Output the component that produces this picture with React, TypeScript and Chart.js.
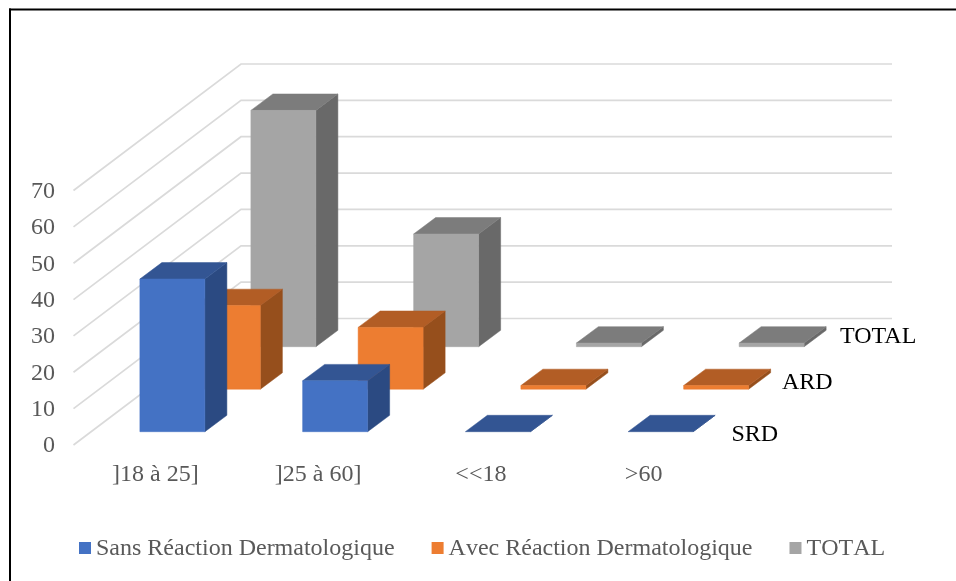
import React, { useEffect, useRef } from "react";
import { Chart, BarController, registerables } from "chart.js";

Chart.register(...registerables);

const categories = ["]18 à 25]", "]25 à 60]", "<<18", ">60"];
const sansReaction = [42, 14, 0, 0];
const avecReaction = [23, 17, 1, 1];
const total = [65, 31, 1, 1];

const seriesNames = ["Sans Réaction Dermatologique", "Avec Réaction Dermatologique", "TOTAL"];
const depthNames = ["SRD", "ARD", "TOTAL"];
const depthNameX = [731.5, 782, 840];
const depthNameY = [441, 389, 343];

const frontColors = ["#4472C4", "#ED7D31", "#A5A5A5"];
const topColors = ["#335593", "#B25D25", "#7C7C7C"];
const sideColors = ["#2B4A82", "#964F1C", "#696969"];

const SERIF = '"Liberation Serif", "Times New Roman", serif';
const GREY_TEXT = "#595959";
const TEXT_SIZE = 24;

// Oblique projection of the depth axis: each series sits one slot further back.
const SLOT_DX = 55.5;
const SLOT_DY = 42.5;
const FIRST_DX = 17;
const FIRST_DY = 13.3;
const BAR_DEPTH_DX = 22;
const BAR_DEPTH_DY = 16.4;
const WALL_DX = 167;
const WALL_DY = 126.5;

function polygon(ctx: CanvasRenderingContext2D, pts: number[][], fill: string) {
  ctx.beginPath();
  pts.forEach(([x, y], i) => (i ? ctx.lineTo(x, y) : ctx.moveTo(x, y)));
  ctx.closePath();
  ctx.fillStyle = fill;
  ctx.fill();
  ctx.strokeStyle = fill;
  ctx.lineWidth = 0.5;
  ctx.stroke();
}

// Bar controller whose elements are painted as boxes receding along the depth axis.
class Bar3DController extends BarController {
  static id = "bar3d";
  static defaults = BarController.defaults;
  static overrides = BarController.overrides;

  draw() {
    const ctx: CanvasRenderingContext2D = this.chart.ctx;
    const slot = this.index;
    const ox = FIRST_DX + SLOT_DX * slot;
    const oy = FIRST_DY + SLOT_DY * slot;
    ctx.save();
    this._cachedMeta.data.forEach((el: any) => {
      const { x, y, base, width } = el.getProps(["x", "y", "base", "width"], true);
      const l = x - width / 2 + ox;
      const r = x + width / 2 + ox;
      const t = y - oy;
      const b = base - oy;
      polygon(ctx, [[r, t], [r + BAR_DEPTH_DX, t - BAR_DEPTH_DY], [r + BAR_DEPTH_DX, b - BAR_DEPTH_DY], [r, b]], sideColors[slot]);
      polygon(ctx, [[l, t], [r, t], [r + BAR_DEPTH_DX, t - BAR_DEPTH_DY], [l + BAR_DEPTH_DX, t - BAR_DEPTH_DY]], topColors[slot]);
      if (b - t > 0) polygon(ctx, [[l, t], [r, t], [r, b], [l, b]], frontColors[slot]);
    });
    ctx.restore();
  }
}
Chart.register(Bar3DController);

const framePlugin = {
  id: "frame",
  beforeDraw(chart: any) {
    const { ctx, width, height } = chart;
    ctx.save();
    ctx.fillStyle = "#000000";
    ctx.fillRect(9, 8.5, width - 9, 2);
    ctx.fillRect(9, 8.5, 2, height - 8.5);
    ctx.restore();
  },
};

// Floor-to-back-wall grid: one bent line per value tick.
const wallGridPlugin = {
  id: "wallGrid",
  beforeDatasetsDraw(chart: any) {
    const { ctx, chartArea, scales } = chart;
    ctx.save();
    ctx.strokeStyle = "#DADADA";
    ctx.lineWidth = 1.7;
    scales.y.ticks.forEach((_: any, i: number) => {
      const y = scales.y.getPixelForTick(i);
      ctx.beginPath();
      ctx.moveTo(chartArea.left - 0.5, y);
      ctx.lineTo(chartArea.left + WALL_DX, y - WALL_DY);
      ctx.lineTo(chartArea.right + WALL_DX, y - WALL_DY);
      ctx.stroke();
    });
    ctx.restore();
  },
};

const annotationsPlugin = {
  id: "annotations",
  afterDraw(chart: any) {
    const { ctx } = chart;
    ctx.save();
    ctx.textBaseline = "alphabetic";
    ctx.textAlign = "left";
    ctx.font = `${TEXT_SIZE}px ${SERIF}`;

    // Series names along the depth axis
    ctx.fillStyle = "#000000";
    depthNames.forEach((name, i) => ctx.fillText(name, depthNameX[i], depthNameY[i]));

    // Legend row
    ctx.fontKerning = "none";
    let x = 79;
    chart.data.datasets.forEach((ds: any) => {
      ctx.fillStyle = ds.backgroundColor;
      ctx.fillRect(x, 542, 12, 12);
      ctx.fillStyle = GREY_TEXT;
      ctx.fillText(ds.label, x + 17, 555);
      x += 12 + 5 + ctx.measureText(ds.label).width + 37;
    });
    ctx.restore();
  },
};

export default function App() {
  const ref = useRef<HTMLCanvasElement>(null);

  useEffect(() => {
    const chart = new Chart(ref.current!, {
      type: "bar3d" as any,
      data: {
        labels: categories,
        datasets: [sansReaction, avecReaction, total].map((data, i) => ({
          label: seriesNames[i],
          data,
          backgroundColor: frontColors[i],
          grouped: false,
          barThickness: 65,
          clip: false as any,
        })),
      },
      options: {
        responsive: false,
        animation: false,
        layout: { padding: { left: 0, top: 190.5, right: 231, bottom: 0 } },
        plugins: { legend: { display: false }, tooltip: { enabled: false } },
        scales: {
          x: {
            type: "category",
            offset: true,
            grid: { display: false },
            border: { display: false },
            ticks: {
              color: GREY_TEXT,
              font: { family: SERIF, size: TEXT_SIZE },
              padding: 7,
              maxRotation: 0,
              autoSkip: false,
            },
            afterFit: (s: any) => {
              s.height = 136;
            },
          },
          y: {
            type: "linear",
            min: 0,
            max: 70,
            grid: { display: false, drawTicks: false },
            border: { display: false },
            ticks: {
              stepSize: 10,
              color: GREY_TEXT,
              font: { family: SERIF, size: TEXT_SIZE },
              padding: 19,
              labelOffset: 1,
            },
            afterFit: (s: any) => {
              s.width = 74;
            },
          },
        },
      },
      plugins: [framePlugin, wallGridPlugin, annotationsPlugin],
    });
    return () => chart.destroy();
  }, []);

  return (
    <canvas
      ref={ref}
      width={956}
      height={581}
      style={{ position: "fixed", left: 0, top: 0, display: "block" }}
    />
  );
}
